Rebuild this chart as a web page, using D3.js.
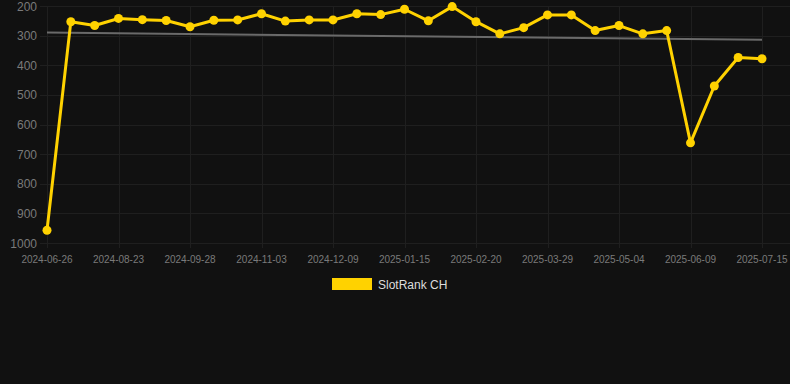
<!DOCTYPE html>
<html>
<head>
<meta charset="utf-8">
<script src="https://cdn.jsdelivr.net/npm/d3@7"></script>
<style>
  html, body { margin: 0; padding: 0; background: #111111; }
  svg { display: block; font-family: "Liberation Sans", Arial, sans-serif; }
</style>
</head>
<body>
<div id="chart"></div>
<script>
// Dates on the category axis (only every third one is labelled)
var dates = [
  "2024-06-26", "2024-07-15", "2024-08-04", "2024-08-23", "2024-09-04", "2024-09-16",
  "2024-09-28", "2024-10-10", "2024-10-22", "2024-11-03", "2024-11-15", "2024-11-27",
  "2024-12-09", "2024-12-21", "2025-01-02", "2025-01-15", "2025-01-27", "2025-02-08",
  "2025-02-20", "2025-03-04", "2025-03-16", "2025-03-29", "2025-04-10", "2025-04-22",
  "2025-05-04", "2025-05-16", "2025-05-28", "2025-06-09", "2025-06-21", "2025-07-03",
  "2025-07-15"
];

// SlotRank CH values (rank, lower is better)
var ranks = [
  957, 253, 266, 242, 246, 249, 270, 248, 247, 226, 251, 247, 247, 226, 229, 211,
  250, 202, 253, 294, 273, 230, 230, 283, 266, 294, 283, 662, 470, 374, 378
];

var yTicks = [200, 300, 400, 500, 600, 700, 800, 900, 1000];
var seriesName = "SlotRank CH";

var W = 790, H = 384;
// plot box
var plot = {left: 40, right: 790, top: 6, bottom: 243};

var svg = d3.select("#chart")
  .append("svg")
    .attr("width", W)
    .attr("height", H);

svg.append("rect")
  .attr("width", W)
  .attr("height", H)
  .attr("fill", "#111111");

var x = d3.scalePoint().domain(dates).range([47, 762]);
var y = d3.scaleLinear().domain([200, 1000]).range([plot.top, plot.bottom]);

// horizontal grid + y labels
svg.append("g")
  .selectAll("line")
  .data(yTicks)
  .enter()
  .append("line")
    .attr("x1", plot.left)
    .attr("x2", plot.right)
    .attr("y1", function(d) { return Math.round(y(d)) + 0.5; })
    .attr("y2", function(d) { return Math.round(y(d)) + 0.5; })
    .attr("stroke", "#1f1f1f")
    .attr("stroke-width", 1);

svg.append("g")
  .selectAll("text")
  .data(yTicks)
  .enter()
  .append("text")
    .attr("x", 37)
    .attr("y", function(d) { return y(d) + 4.5; })
    .attr("text-anchor", "end")
    .attr("fill", "#7a7a7a")
    .style("font-size", "12px")
    .text(function(d) { return d; });

// vertical grid + x labels every third date
var labelled = dates.filter(function(d, i) { return i % 3 === 0; });

svg.append("g")
  .selectAll("line")
  .data(labelled)
  .enter()
  .append("line")
    .attr("x1", function(d) { return Math.round(x(d)) + 0.5; })
    .attr("x2", function(d) { return Math.round(x(d)) + 0.5; })
    .attr("y1", plot.top)
    .attr("y2", plot.bottom + 5)
    .attr("stroke", "#1f1f1f")
    .attr("stroke-width", 1);

svg.append("g")
  .selectAll("text")
  .data(labelled)
  .enter()
  .append("text")
    .attr("x", function(d) { return x(d); })
    .attr("y", 263)
    .attr("text-anchor", "middle")
    .attr("fill", "#7a7a7a")
    .style("font-size", "10px")
    .text(function(d) { return d; });

// linear trend line (least squares over index)
var n = ranks.length;
var mx = d3.mean(ranks, function(d, i) { return i; });
var my = d3.mean(ranks);
var sxy = d3.sum(ranks, function(d, i) { return (i - mx) * (d - my); });
var sxx = d3.sum(ranks, function(d, i) { return (i - mx) * (i - mx); });
var slope = sxy / sxx;
var b0 = my - slope * mx;

svg.append("line")
  .attr("x1", x(dates[0]))
  .attr("y1", y(b0))
  .attr("x2", x(dates[n - 1]))
  .attr("y2", y(b0 + slope * (n - 1)))
  .attr("stroke", "#6a6a6a")
  .attr("stroke-width", 2);

// series line
var line = d3.line()
  .x(function(d, i) { return x(dates[i]); })
  .y(function(d) { return y(d); });

svg.append("path")
  .datum(ranks)
  .attr("d", line)
  .attr("fill", "none")
  .attr("stroke", "#ffd200")
  .attr("stroke-width", 3)
  .attr("stroke-linejoin", "round");

svg.append("g")
  .selectAll("circle")
  .data(ranks)
  .enter()
  .append("circle")
    .attr("cx", function(d, i) { return x(dates[i]); })
    .attr("cy", function(d) { return y(d); })
    .attr("r", 4.5)
    .attr("fill", "#ffd200");

// legend
svg.append("rect")
  .attr("x", 332)
  .attr("y", 278)
  .attr("width", 40)
  .attr("height", 12)
  .attr("fill", "#ffd200");

svg.append("text")
  .attr("x", 378)
  .attr("y", 288.5)
  .attr("fill", "#dddddd")
  .style("font-size", "12px")
  .text(seriesName);
</script>
</body>
</html>
